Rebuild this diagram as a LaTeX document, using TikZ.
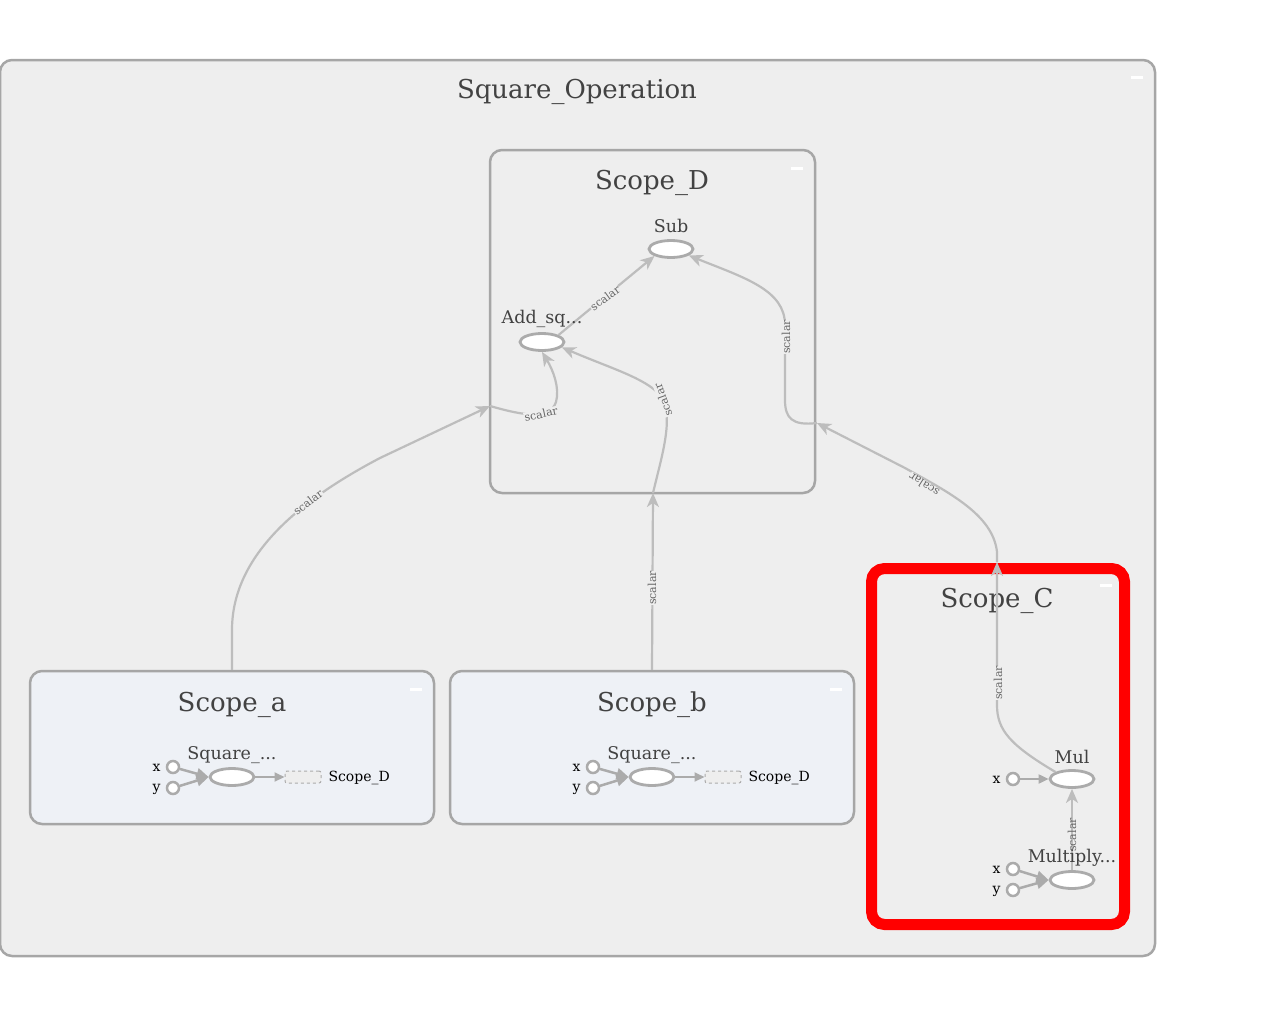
\documentclass[tikz,border=0pt]{standalone}
\usepackage{fontspec}
\setmainfont{DejaVu Serif}
\usetikzlibrary{arrows.meta,shapes.geometric}
\definecolor{boxfill}{HTML}{EEEEEE}
\definecolor{boxline}{HTML}{A6A6A6}
\definecolor{seriesfill}{HTML}{EEF1F6}
\definecolor{opline}{HTML}{ABABAB}
\definecolor{edgeline}{HTML}{BDBDBD}
\definecolor{titletext}{HTML}{424242}
\definecolor{labeltext}{HTML}{666666}
\tikzset{
  group/.style={draw=boxline, line width=2.5pt, fill=boxfill, rounded corners=12pt, inner sep=0pt},
  series/.style={group, fill=seriesfill},
  picked/.style={draw=red, line width=11pt, fill=boxfill, rounded corners=13pt, inner sep=0pt},
  title/.style={text=titletext, font=\fontsize{26}{30}\selectfont},
  op/.style={ellipse, draw=opline, line width=2.8pt, fill=white, minimum width=44pt, minimum height=17pt, inner sep=0pt},
  oplabel/.style={text=titletext, font=\fontsize{17.5}{20}\selectfont},
  port/.style={circle, draw=opline, line width=2.5pt, fill=white, minimum size=12pt, inner sep=0pt},
  portlabel/.style={font=\fontsize{14}{16}\selectfont},
  refbox/.style={draw=opline, dashed, line width=1pt, fill=boxfill, rounded corners=2pt, minimum width=36pt, minimum height=12pt, inner sep=0pt},
  flow/.style={draw=edgeline, line width=2.2pt, -{Stealth[length=14pt,width=12pt,inset=4pt]}},
  feed/.style={draw=opline, line width=2.5pt},
  elabel/.style={text=labeltext, font=\fontsize{11}{11}\selectfont, fill=boxfill, inner sep=0.5pt},
  fold/.style={draw=white, line width=3pt},
}
\begin{document}
\begin{tikzpicture}[x=1pt,y=-1pt]
  \useasboundingbox (0,0) rectangle (1275,1017);
  % groups
  \node[group, minimum width=1155pt, minimum height=896pt] (sqop) at (577.5,508) {};
  \node[title] (sqoptitle) at (577,92) {Square\_Operation};
  \node[group, minimum width=325pt, minimum height=343pt] (sd) at (652.5,321.5) {};
  \node[title] (sdtitle) at (652,183) {Scope\_D};
  \node[series, minimum width=404pt, minimum height=153pt] (sa) at (232,747.5) {};
  \node[title] (satitle) at (232,705) {Scope\_a};
  \node[series, minimum width=404pt, minimum height=153pt] (sb) at (652,747.5) {};
  \node[title] (sbtitle) at (652,705) {Scope\_b};
  \node[picked, minimum width=253pt, minimum height=356pt] (sc) at (998,746.5) {};
  \node[title] (sctitle) at (997,601) {Scope\_C};
  \draw[fold] (1131,77) -- (1143,77);
  \draw[fold] (791,168) -- (803,168);
  \draw[fold] (410,689) -- (422,689);
  \draw[fold] (830,689) -- (842,689);
  \draw[fold] (1100,585) -- (1112,585);
  % Scope_D ops
  \node[op] (sub) at (671,249) {};
  \node[oplabel] (sublabel) at (671,226) {Sub};
  \node[op] (add) at (542,342) {};
  % Scope_a
  \node[op] (sqa) at (232,777) {};
  \node[oplabel] (sqalabel) at (232,755) {Square\_...};
  \node[port] (ax) at (173,767) {};
  \node[port] (ay) at (173,788) {};
  \node[portlabel, anchor=east] (axlabel) at (164,768) {x};
  \node[portlabel, anchor=east] (aylabel) at (164,789) {y};
  \node[refbox] (refa) at (303,777) {};
  \node[portlabel, anchor=west] (refalabel) at (325,778) {Scope\_D};
  % Scope_b
  \node[op] (sqb) at (652,777) {};
  \node[oplabel] (sqblabel) at (652,755) {Square\_...};
  \node[port] (bx) at (593,767) {};
  \node[port] (by) at (593,788) {};
  \node[portlabel, anchor=east] (bxlabel) at (584,768) {x};
  \node[portlabel, anchor=east] (bylabel) at (584,789) {y};
  \node[refbox] (refb) at (723,777) {};
  \node[portlabel, anchor=west] (refblabel) at (745,778) {Scope\_D};
  % Scope_C
  \node[op] (mul) at (1072,779) {};
  \node[oplabel] (mullabel) at (1072,757) {Mul};
  \node[port] (mx) at (1013,779) {};
  \node[portlabel, anchor=east] (mxlabel) at (1004,780) {x};
  \node[op] (mult) at (1072,880) {};
  \node[port] (tx) at (1013,869) {};
  \node[port] (ty) at (1013,890) {};
  \node[portlabel, anchor=east] (txlabel) at (1004,870) {x};
  \node[portlabel, anchor=east] (tylabel) at (1004,891) {y};
  % borders where the edges cross
  \coordinate (sdleft) at (490,406);
  \coordinate (sdbot) at (653,493);
  \coordinate (sdright) at (817,423);
  \coordinate (sctop) at (997,562);
  \begin{scope}[feed]
    \draw[-{Triangle[length=12pt,width=11pt]}] (ax) -- (sqa.west);
    \draw[-{Triangle[length=12pt,width=11pt]}] (ay) -- (sqa.west);
    \draw[line width=2pt, -{Triangle[length=10pt,width=9pt]}] (sqa.east) -- (refa.west);
    \draw[-{Triangle[length=12pt,width=11pt]}] (bx) -- (sqb.west);
    \draw[-{Triangle[length=12pt,width=11pt]}] (by) -- (sqb.west);
    \draw[line width=2pt, -{Triangle[length=10pt,width=9pt]}] (sqb.east) -- (refb.west);
    \draw[line width=2pt, -{Triangle[length=10pt,width=9pt]}] (mx) -- (mul.west);
    \draw[-{Triangle[length=12pt,width=11pt]}] (tx) -- (mult.west);
    \draw[-{Triangle[length=12pt,width=11pt]}] (ty) -- (mult.west);
  \end{scope}
  \begin{scope}[flow]
    \draw (sa.north) -- (232,630) .. controls (232,555) and (300,500) .. (380,458) -- (sdleft);
    \draw (sdleft) .. controls (525,416) and (550,420) .. (556,402) .. controls (560,388) and (553,370) .. (add.south);
    \draw (sb.north) -- (sdbot);
    \draw (sdbot) .. controls (662,455) and (675,415) .. (660,395) .. controls (645,378) and (610,368) .. (add.-15);
    \draw (add.north east) -- (sub.south west);
    \draw (sdright) .. controls (792,426) and (785,418) .. (785,400) -- (785,325) .. controls (785,290) and (745,278) .. (sub.-20);
    \draw (mul.north west) .. controls (1010,745) and (997,730) .. (997,705) -- (sctop);
    \draw (sctop) -- (997,552) .. controls (993,515) and (950,493) .. (905,468) -- (sdright);
    \draw (mult.north) -- (mul.south);
  \end{scope}
  % edge labels
  \node[elabel, rotate=37] (l1) at (308,502) {scalar};
  \node[elabel, rotate=12] (l2) at (541,414) {scalar};
  \node[elabel, rotate=90] (l3) at (652,588) {scalar};
  \node[elabel, rotate=110] (l4) at (663,400) {scalar};
  \node[elabel, rotate=36] (l5) at (605,298) {scalar};
  \node[elabel, rotate=90] (l6) at (786,337) {scalar};
  \node[elabel, rotate=90] (l7) at (998,683) {scalar};
  \node[elabel, rotate=147] (l8) at (924,485) {scalar};
  \node[oplabel] (addlabel) at (542,319) {Add\_sq...};
  \node[oplabel] (multlabel) at (1072,858) {Multiply...};
  \node[elabel, fill=none, rotate=90] (l9) at (1072,835) {scalar};
\end{tikzpicture}
\end{document}
